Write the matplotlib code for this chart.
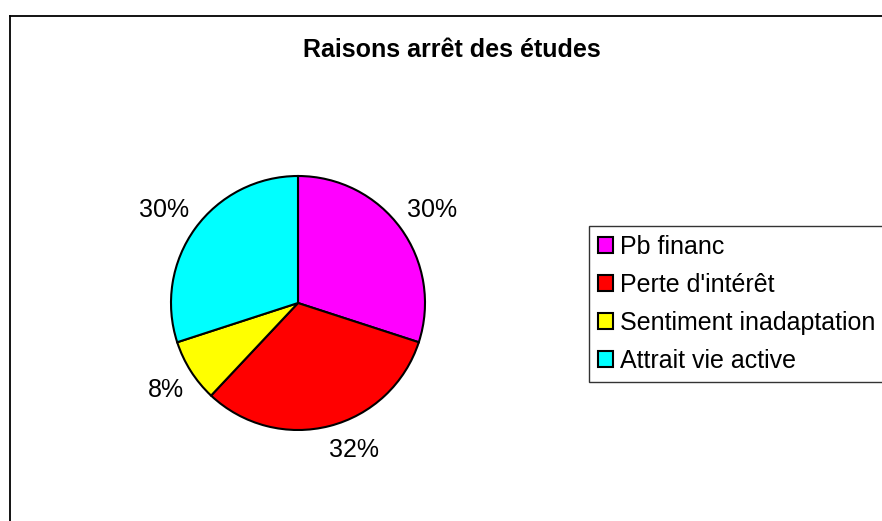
import numpy as np
import matplotlib.pyplot as plt
from matplotlib.lines import Line2D

plt.rcParams['font.family'] = ['Liberation Sans', 'DejaVu Sans']

labels = ["Pb financ", "Perte d'intérêt", "Sentiment inadaptation", "Attrait vie active"]
values = [30, 32, 8, 30]
colors = ["#FF00FF", "#FF0000", "#FFFF00", "#00FFFF"]

W, H = 882, 521
fig = plt.figure(figsize=(W / 100, H / 100), dpi=100)

# chart frame (clipped at right and bottom like the original)
fig.add_artist(Line2D([9.5 / W, 9.5 / W], [0, 1 - 15.5 / H], color="black", lw=1.3))
fig.add_artist(Line2D([9.5 / W, 1], [1 - 15.5 / H, 1 - 15.5 / H], color="black", lw=1.3))

fig.text(452 / W, 1 - 50 / H, "Raisons arrêt des études", ha="center", va="center",
         fontsize=18, fontweight="bold")

cx, cy, r = 298, 303, 127
ax = fig.add_axes([(cx - r) / W, (H - cy - r) / H, 2 * r / W, 2 * r / H])
wedges, _ = ax.pie(values, colors=colors, startangle=90, counterclock=False,
                   wedgeprops=dict(edgecolor="black", linewidth=1.5))
ax.set_xlim(-1, 1)
ax.set_ylim(-1, 1)
ax.axis("off")

# percentage labels outside, corner nearest the pie placed just off the rim
total = sum(values)
for w, v in zip(wedges, values):
    ang = np.deg2rad((w.theta1 + w.theta2) / 2)
    x, y = 1.09 * np.cos(ang), 1.09 * np.sin(ang)
    sx = 1 if x > 0 else -1
    ha = "left" if x > 0 else "right"
    if y > 0:
        ax.annotate(f"{v / total * 100:.0f}%", (x, y), xytext=(-2.2 * sx, 3.0),
                    textcoords="offset points", ha=ha, va="baseline",
                    fontsize=18, annotation_clip=False)
    else:
        ax.annotate(f"{v / total * 100:.0f}%", (x, y), xytext=(-2.2 * sx, -0.6),
                    textcoords="offset points", ha=ha, va="top",
                    fontsize=18, annotation_clip=False)

leg = fig.legend(wedges, labels, loc="upper left", bbox_to_anchor=(589 / W, 1 - 226 / H),
                 borderaxespad=0, fontsize=18, frameon=True, fancybox=False,
                 edgecolor="black", handlelength=0.6, handleheight=0.6,
                 handletextpad=0.3, labelspacing=0.56, borderpad=0.35)
leg.get_frame().set_linewidth(1.0)

fig.savefig("out.png", dpi=100)
